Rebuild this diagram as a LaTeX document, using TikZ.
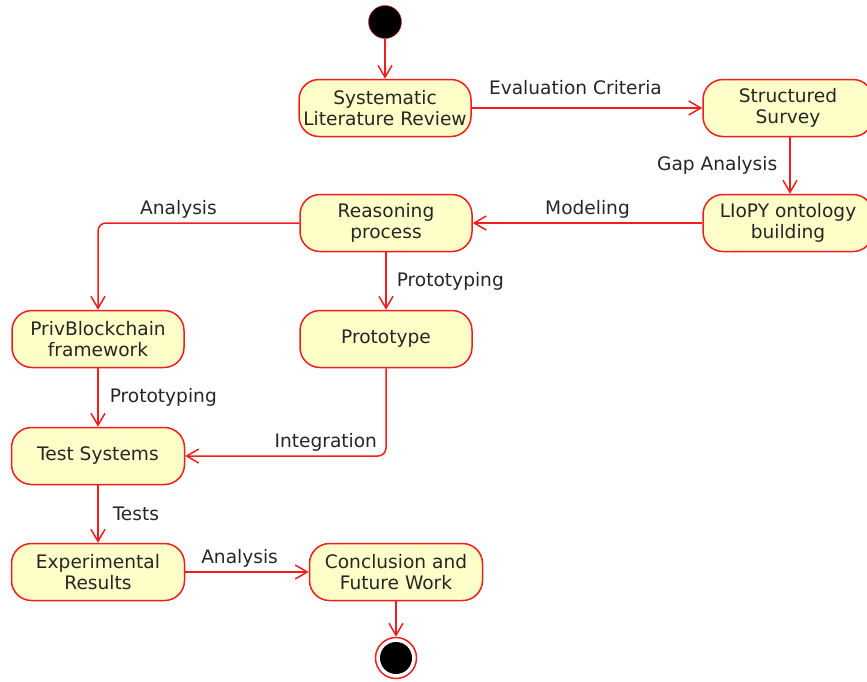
\documentclass[tikz,border=0pt]{standalone}
\usepackage{fontspec}
\setmainfont{DejaVu Sans}
\usetikzlibrary{arrows.meta}
\definecolor{boxfill}{RGB}{254,254,200}
\definecolor{linered}{RGB}{240,30,30}
\tikzstyle{activity}=[draw=linered, fill=boxfill, line width=1.5pt, rounded corners=20pt, minimum width=172pt, minimum height=57pt, align=center, inner sep=0pt, font=\fontsize{18.6}{21}\selectfont, text=black!85]
\tikzstyle{flow}=[draw=linered, line width=1.5pt, -{Straight Barb[length=12pt, width=14pt, line width=1.5pt]}]
\tikzstyle{lbl}=[font=\fontsize{18.6}{21}\selectfont, text=black!85, inner sep=3pt]

\begin{document}
\begin{tikzpicture}[x=1pt, y=-1pt]
\useasboundingbox (0,0) rectangle (867,681);
% Start and end
    \node (start) [circle, draw=linered, fill=black, minimum size=33pt, inner sep=0pt] at (385,22) {};
    \node (stop) [circle, draw=linered, line width=1.5pt, fill=white, minimum size=41pt, inner sep=0pt] at (396,658) {};
    \fill[black] (stop.center) circle (16pt);
% Activities
    \node (slr) [activity] at (385,108) {Systematic\\Literature Review};
    \node (survey) [activity, minimum width=170pt] at (788,108) {Structured\\Survey};
    \node (liopy) [activity, minimum width=170pt] at (788,223) {LIoPY ontology\\building};
    \node (reasoning) [activity] at (386,223) {Reasoning\\process};
    \node (privbc) [activity] at (98,339) {PrivBlockchain\\framework};
    \node (proto) [activity] at (386,339) {Prototype};
    \node (tests) [activity, minimum width=173pt] at (98,456) {Test Systems};
    \node (results) [activity, minimum width=173pt] at (98,572) {Experimental\\Results};
    \node (concl) [activity, minimum width=173pt] at (396,572) {Conclusion and\\Future Work};
% Transitions
    \draw[flow] (start) -- (slr);
    \draw[flow] (slr) -- node[lbl, above=9pt, pos=0.45] {Evaluation Criteria} (survey);
    \draw[flow] (survey.south -| 790,0) -- node[lbl, left=9pt] {Gap Analysis} (liopy.north -| 790,0);
    \draw[flow] (liopy) -- node[lbl, above=1pt] {Modeling} (reasoning);
    \draw[flow, rounded corners=8pt] (reasoning.west) -| node[lbl, above=1pt, pos=0.3] {Analysis} (privbc.north);
    \draw[flow] (reasoning) -- node[lbl, right=7pt] {Prototyping} (proto);
    \draw[flow] (privbc) -- node[lbl, right=8pt] {Prototyping} (tests);
    \draw[flow, rounded corners=8pt] (proto.south) |- node[lbl, above=1pt, pos=0.65] {Integration} (tests.east);
    \draw[flow] (tests) -- node[lbl, right=11pt] {Tests} (results);
    \draw[flow] (results) -- node[lbl, above=1pt, pos=0.44] {Analysis} (concl);
    \draw[flow] (concl) -- (stop);

\end{tikzpicture}
\end{document}
